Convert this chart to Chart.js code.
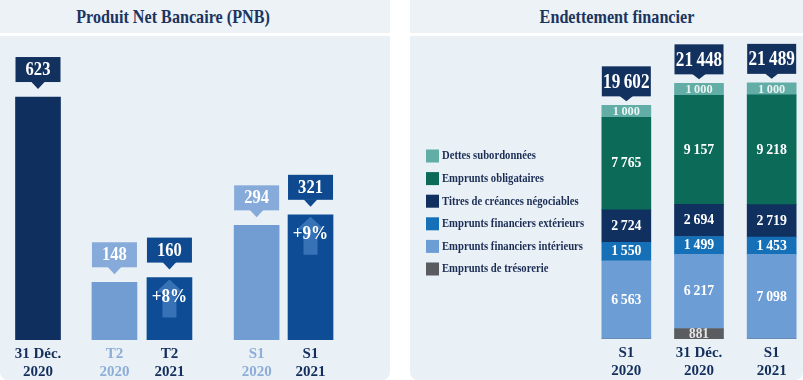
<!DOCTYPE html>
<html>
<head>
<meta charset="utf-8">
<script src="https://cdn.jsdelivr.net/npm/chart.js@4.4.1/dist/chart.umd.min.js"></script>
<style>
  html,body{margin:0;padding:0;}
  body{width:803px;height:380px;overflow:hidden;background:#ffffff;position:relative;font-family:"Liberation Serif",serif;}
  .hdr{position:absolute;top:0;height:33px;background:#edf2f6;}
  .panel{position:absolute;top:36px;height:344px;background:#e9f0f6;border-bottom-right-radius:8px;border-bottom-left-radius:8px;}
  .title{position:absolute;top:6px;width:240px;text-align:center;font-weight:bold;font-size:19px;line-height:22px;color:#1b3561;transform:scaleX(0.85);transform-origin:center;white-space:nowrap;}
  canvas{position:absolute;top:0;}
</style>
</head>
<body>
<div class="hdr" style="left:0;width:390px;"></div>
<div class="hdr" style="left:410px;width:393px;"></div>
<div class="panel" style="left:0;width:390px;"></div>
<div class="panel" style="left:410px;width:393px;"></div>
<div class="title" style="left:53px;">Produit Net Bancaire (PNB)</div>
<div class="title" style="left:497px;">Endettement financier</div>
<canvas id="pnb" width="390" height="386" style="left:0;"></canvas>
<canvas id="debt" width="400" height="385" style="left:410px;"></canvas>
<script>
// ---------- DATA ----------
const pnbCategories = [['31 Déc.', '2020'], ['T2', '2020'], ['T2', '2021'], ['S1', '2020'], ['S1', '2021']];
const pnbValues = [623, 148, 160, 294, 321];
const pnbGrowth = ['', '', '+8%', '', '+9%'];

const debtCategories = [['S1', '2020'], ['31 Déc.', '2020'], ['S1', '2021']];
const debtSeries = ['Emprunts de trésorerie', 'Emprunts financiers intérieurs', 'Emprunts financiers extérieurs',
                    'Titres de créances négociables', 'Emprunts obligataires', 'Dettes subordonnées'];
const tresorerie   = [0, 881, 0];
const interieurs   = [6563, 6217, 7098];
const exterieurs   = [1550, 1499, 1453];
const titres       = [2724, 2694, 2719];
const obligataires = [7765, 9157, 9218];
const subordonnees = [1000, 1000, 1000];
const debtTotals   = [19602, 21448, 21489];

// ---------- LAYOUT / STYLE ----------
const pnbSlots = [0, 2.78, 4.78, 7.95, 9.91];          // horizontal grouping of the PNB bars (scale units)
const pnbBarColors = ['#0f2f5f', '#729dd3', '#0e4d96', '#729dd3', '#0e4d96'];
const pnbBoxColors = ['#13315f', '#86aad9', '#0f4a90', '#86aad9', '#0f4a90'];
const pnbTickColors = ['#142f5c', '#8eaed8', '#142f5c', '#8eaed8', '#142f5c'];
const debtColors = ['#5b5c60', '#6d9dd5', '#1570b8', '#10305f', '#0c6b58', '#62ada5'];
const SERIF = '"Liberation Serif", serif';

function fmt(v) { return String(v).replace(/\B(?=(\d{3})+(?!\d))/g, '\u2009'); }
function drawText(ctx, str, x, y, font, color, sx, align) {
  ctx.save();
  ctx.font = font; ctx.fillStyle = color;
  ctx.textAlign = align || 'center'; ctx.textBaseline = 'middle';
  ctx.translate(x, y); ctx.scale(sx, 1);
  ctx.fillText(str, 0, 0);
  ctx.restore();
}
function callout(ctx, x, w, top, h, tip, color) {
  ctx.fillStyle = color;
  ctx.fillRect(x - w / 2, top, w, h);
  ctx.beginPath();
  ctx.moveTo(x - 7, top + h - 0.5); ctx.lineTo(x + 7, top + h - 0.5); ctx.lineTo(x, tip);
  ctx.closePath(); ctx.fill();
}

// ---------- PNB CHART ----------
const pnbPlugin = {
  id: 'pnbLabels',
  afterDatasetsDraw(chart) {
    const ctx = chart.ctx;
    chart.getDatasetMeta(0).data.forEach((bar, i) => {
      const p = bar.getProps(['x', 'y', 'base', 'width'], true);
      if (pnbGrowth[i]) {
        ctx.save();
        ctx.fillStyle = 'rgba(120,170,230,0.40)';
        ctx.beginPath();
        ctx.moveTo(p.x, p.y + 2);
        ctx.lineTo(p.x + 14, p.y + 15);
        ctx.lineTo(p.x + 7, p.y + 15);
        ctx.lineTo(p.x + 7, p.y + 40);
        ctx.lineTo(p.x - 7, p.y + 40);
        ctx.lineTo(p.x - 7, p.y + 15);
        ctx.lineTo(p.x - 14, p.y + 15);
        ctx.closePath(); ctx.fill();
        ctx.restore();
        drawText(ctx, pnbGrowth[i], p.x, p.y + 19, 'bold 19px ' + SERIF, '#ffffff', 0.9);
      }
      const h = 25, bottom = p.y - 15;
      callout(ctx, p.x, p.width, bottom - h, h, p.y - 8, pnbBoxColors[i]);
      drawText(ctx, fmt(pnbValues[i]), p.x, bottom - h / 2 + 1, 'bold 18px ' + SERIF, '#ffffff', 0.92);
    });
  }
};

new Chart(document.getElementById('pnb'), {
  type: 'bar',
  data: {
    datasets: [{
      data: pnbValues.map((v, i) => ({ x: pnbSlots[i], y: v })),
      backgroundColor: pnbBarColors,
      barThickness: 45,
      borderWidth: 0
    }]
  },
  options: {
    responsive: false,
    animation: false,
    layout: { padding: { top: 28, left: 0, right: 0, bottom: 0 } },
    plugins: { legend: { display: false }, tooltip: { enabled: false }, title: { display: false } },
    scales: {
      x: {
        type: 'linear', min: -1.382, max: 12.8, offset: false,
        afterBuildTicks: (scale) => { scale.ticks = pnbSlots.map(v => ({ value: v })); },
        grid: { display: false, drawTicks: false },
        border: { display: false },
        ticks: {
          autoSkip: false, maxRotation: 0, minRotation: 0, padding: 5,
          font: { family: SERIF, size: 15, weight: 'bold', lineHeight: 1.2 },
          color: (c) => pnbTickColors[c.index],
          callback: (value, index) => pnbCategories[index]
        }
      },
      y: { display: false, min: 0, max: 800 }
    }
  },
  plugins: [pnbPlugin]
});

// ---------- DEBT CHART ----------
const debtData = [tresorerie, interieurs, exterieurs, titres, obligataires, subordonnees];

const debtPlugin = {
  id: 'debtLabels',
  afterDatasetsDraw(chart) {
    const ctx = chart.ctx;
    chart.data.datasets.forEach((ds, di) => {
      chart.getDatasetMeta(di).data.forEach((el, i) => {
        const v = ds.data[i];
        if (!v) return;
        const p = el.getProps(['x', 'y', 'base'], true);
        const cy = (p.y + p.base) / 2;
        if (di === 5) drawText(ctx, fmt(v), p.x, cy + 0.5, 'bold 13px ' + SERIF, '#e9f4f2', 0.95);
        else if (di === 0) drawText(ctx, fmt(v), p.x, cy + 1, 'bold 14px ' + SERIF, '#e6e6e6', 0.95);
        else drawText(ctx, fmt(v), p.x, cy, 'bold 15px ' + SERIF, '#ffffff', 0.92);
      });
    });
    const topMeta = chart.getDatasetMeta(chart.data.datasets.length - 1);
    topMeta.data.forEach((el, i) => {
      const p = el.getProps(['x', 'y', 'width'], true);
      const h = 30, bottom = p.y - 9;
      callout(ctx, p.x, p.width, bottom - h, h, p.y - 4, '#13315f');
      drawText(ctx, fmt(debtTotals[i]), p.x, bottom - h / 2 + 1, 'bold 20px ' + SERIF, '#ffffff', 0.86);
    });
    const n = chart.data.datasets.length;
    for (let k = 0; k < n; k++) {
      const ds = chart.data.datasets[n - 1 - k];
      const cy = 156 + k * 22.6;
      ctx.fillStyle = ds.backgroundColor;
      ctx.fillRect(16, cy - 6.5, 13, 13);
      drawText(ctx, ds.label, 32, cy, 'bold 13px ' + SERIF, '#1b2d55', 0.82, 'left');
    }
  }
};

new Chart(document.getElementById('debt'), {
  type: 'bar',
  data: {
    labels: debtCategories,
    datasets: debtSeries.map((name, i) => ({
      label: name,
      data: debtData[i],
      backgroundColor: debtColors[i],
      barThickness: 49,
      borderWidth: 0
    }))
  },
  options: {
    responsive: false,
    animation: false,
    layout: { padding: { top: 41, left: 180, right: 2, bottom: 0 } },
    plugins: { legend: { display: false }, tooltip: { enabled: false }, title: { display: false } },
    scales: {
      x: {
        stacked: true,
        grid: { display: false, drawTicks: false },
        border: { display: false },
        ticks: {
          autoSkip: false, maxRotation: 0, minRotation: 0, padding: 5,
          font: { family: SERIF, size: 15, weight: 'bold', lineHeight: 1.2 },
          color: '#142f5c'
        }
      },
      y: { stacked: true, display: false, min: 0, max: 25000 }
    }
  },
  plugins: [debtPlugin]
});
</script>
</body>
</html>
